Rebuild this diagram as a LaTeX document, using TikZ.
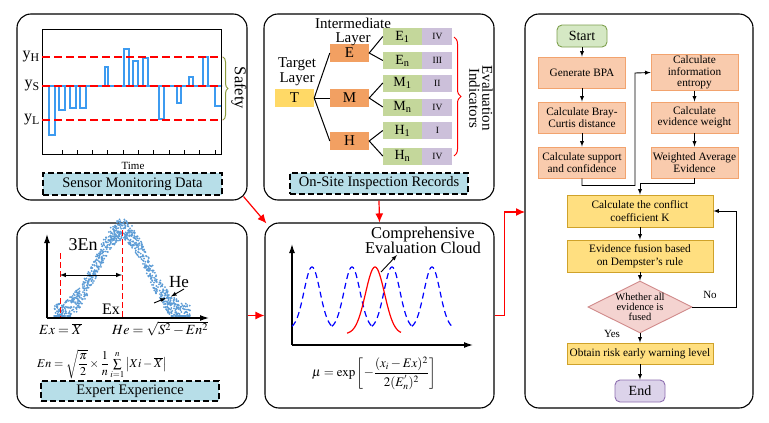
\documentclass[tikz,border=0pt]{standalone}
\usepackage{amsmath}
\usepackage{mathptmx}
\usepackage[no-math]{fontspec}
\setmainfont{Liberation Serif}
\usepackage{tikz}
\usetikzlibrary{arrows,arrows.meta,calc,positioning,shapes.geometric,decorations.pathreplacing}
\definecolor{capblue}{HTML}{B7DEE8}
\definecolor{tyellow}{HTML}{FFD966}
\definecolor{torange}{HTML}{F2A062}
\definecolor{tgreen}{HTML}{C4D79B}
\definecolor{tpurple}{HTML}{CCC0DA}
\definecolor{sigblue}{HTML}{3D9BF0}
\definecolor{dotblue}{HTML}{5B9BD5}
\definecolor{safegreen}{HTML}{8A9A3A}
\definecolor{procfill}{HTML}{F9CBAD}
\definecolor{procdraw}{HTML}{F2A36E}
\definecolor{keyfill}{HTML}{FFDF80}
\definecolor{keydraw}{HTML}{CFA22A}
\definecolor{startfill}{HTML}{D5E8C4}
\definecolor{startdraw}{HTML}{7EA04E}
\definecolor{endfill}{HTML}{DCD3EA}
\definecolor{enddraw}{HTML}{8E6FB0}
\definecolor{diafill}{HTML}{F4D3D0}
\definecolor{diadraw}{HTML}{D08A8A}
\tikzset{
        panel/.style = {draw, rectangle, rounded corners=14pt,
            line width=1.1pt, inner sep=0pt},
        caption/.style = {draw, rectangle, fill=capblue, line width=1.1pt,
            dash pattern=on 6pt off 3pt, inner sep=0pt,
            font=\fontsize{14.5}{16}\selectfont},
        layer/.style = {rectangle, inner sep=0pt, minimum width=39pt,
            minimum height=18pt, font=\fontsize{15}{16}\selectfont},
        leaf/.style = {rectangle, fill=tgreen, inner sep=0pt,
            minimum width=39pt, minimum height=17pt,
            font=\fontsize{14}{15}\selectfont},
        grade/.style = {rectangle, fill=tpurple, inner sep=0pt,
            minimum width=30pt, minimum height=17pt,
            font=\fontsize{9.5}{10}\selectfont},
        proc/.style = {draw=procdraw, fill=procfill, rectangle, line width=0.9pt,
            minimum width=87pt, minimum height=31pt, inner sep=1pt,
            align=center, font=\fontsize{11.3}{11.5}\selectfont},
        key/.style = {draw=keydraw, fill=keyfill, rectangle, line width=0.9pt,
            minimum width=146pt, minimum height=32pt, inner sep=1pt,
            align=center, font=\fontsize{11.3}{12.5}\selectfont},
        term/.style = {rectangle, rounded corners=5pt, line width=0.9pt,
            minimum width=50pt, minimum height=22pt, inner sep=0pt,
            font=\fontsize{14}{15}\selectfont},
        flow/.style = {draw, line width=0.9pt, -latex},
        redarrow/.style = {draw=red, line width=1.2pt, -{Latex[length=9pt,width=8pt]}},
        axis/.style = {draw, line width=1.3pt, -{Latex[length=9pt,width=6pt]}},
        signal/.style = {draw=sigblue, line width=1.2pt},
        level/.style = {draw=red, line width=1.1pt, dash pattern=on 8pt off 4pt},
    }

\begin{document}
\begin{tikzpicture}[x=1pt,y=-1pt]
\useasboundingbox (0,0) rectangle (769,423);

\node[panel, minimum width=230, minimum height=186] (p1) at (132,107) {};
\node[panel, minimum width=230, minimum height=186] (p2) at (379,107) {};
\node[panel, minimum width=230, minimum height=185] (p3) at (132,315.5) {};
\node[panel, minimum width=229, minimum height=185] (p4) at (379.5,315.5) {};
\node[panel, minimum width=228, minimum height=394] (p5) at (639,211) {};

% sensor monitoring
\node[draw, line width=1pt, minimum width=179, minimum height=125, inner sep=0pt] (plot) at (131.5,91.5) {};
\foreach \i in {0,...,10}
    \draw[line width=1pt] (62+\i*15.3,154) -- ++(0,-4);
\draw[signal] (42,86) -- (221,86);
\foreach \a/\b/\h in {49/55/135, 59/65/110, 70/76/108, 80/86/108, 105/108/67,
        124/129/49, 133/138/61, 143/148/58, 159/164/119, 177/181/103,
        189/193/77, 203/208/57}
    \draw[signal] (\a,86) -- (\a,\h) -- (\b,\h) -- (\b,86);
\draw[signal] (215,86) -- (215,106) -- (221,106);
\draw[level] (42,57) -- (222,57);
\draw[level] (42,86) -- (222,86);
\draw[level] (42,120) -- (222,120);
\node[anchor=east, font=\fontsize{16}{17}\selectfont, inner sep=1pt] (yh) at (41,57) {y\textsubscript{H}};
\node[anchor=east, font=\fontsize{16}{17}\selectfont, inner sep=1pt] (ys) at (41,86) {y\textsubscript{S}};
\node[anchor=east, font=\fontsize{16}{17}\selectfont, inner sep=1pt] (yl) at (41,120) {y\textsubscript{L}};
\draw[safegreen, line width=1pt, decorate, decoration={brace, amplitude=5pt}]
    (223,57) -- (223,120);
\node[rotate=-90, font=\fontsize{16.5}{17}\selectfont] (safety) at (239,88) {Safety};
\node[font=\fontsize{11}{12}\selectfont] (time) at (133,166) {Time};
\node[caption, minimum width=179, minimum height=22] (c1) at (132.5,184) {Sensor Monitoring Data};

% on-site inspection
\node[layer, fill=tyellow] (T) at (294.5,98) {T};
\node[layer, fill=torange] (E) at (349.5,53) {E};
\node[layer, fill=torange] (M) at (349.5,98) {M};
\node[layer, fill=torange] (H) at (349.5,141) {H};
\node[align=center, font=\fontsize{15}{14}\selectfont] (inter) at (353,32) {Intermediate\\Layer};
\node[align=center, font=\fontsize{15}{15}\selectfont] (target) at (297,72) {Target\\Layer};
\node[leaf] (e1) at (402.5,36.5) {E\textsubscript{1}};
\node[leaf] (en) at (402.5,60.5) {E\textsubscript{n}};
\node[leaf] (m1) at (402.5,83) {M\textsubscript{1}};
\node[leaf] (mn) at (402.5,107) {M\textsubscript{n}};
\node[leaf] (h1) at (402.5,130.5) {H\textsubscript{1}};
\node[leaf] (hn) at (402.5,156) {H\textsubscript{n}};
\node[grade, right=0pt of e1] (ge1) {IV};
\node[grade, right=0pt of en] (gen) {III};
\node[grade, right=0pt of m1] (gm1) {II};
\node[grade, right=0pt of mn] (gmn) {IV};
\node[grade, right=0pt of h1] (gh1) {I};
\node[grade, right=0pt of hn] (ghn) {IV};
\draw[line width=1pt] (T.east) -- (E.west);
\draw[line width=1pt] (T.east) -- (M.west);
\draw[line width=1pt] (T.east) -- (H.west);
\draw[line width=1pt] (e1.west) -- (E.east) -- (en.west);
\draw[line width=1pt] (m1.west) -- (M.east) -- (mn.west);
\draw[line width=1pt] (h1.west) -- (H.east) -- (hn.west);
\draw[red, line width=1pt, decorate, decoration={brace, amplitude=7pt}]
    (454,37) -- (454,156);
\node[rotate=-90, align=center, font=\fontsize{15}{13}\selectfont] (indic) at (481,98) {Evaluation\\Indicators};
\node[caption, minimum width=178, minimum height=21] (c2) at (379,183.5) {On-Site Inspection Records};

% expert experience
\pgfmathsetseed{42}
\foreach \i in {1,...,950}{
    \pgfmathsetmacro{\px}{122+68*rand}
    \pgfmathsetmacro{\py}{min(316,318-88*exp(-((\px-122)/25)^2/2)+11*rand)}
    \fill[dotblue] (\px,\py) circle (1);
}
\draw[red, line width=1pt, dash pattern=on 6pt off 3pt] (60,253) -- (60,318);
\draw[red, line width=1pt, dash pattern=on 6pt off 3pt] (122,230) -- (122,318);
\coordinate (o3) at (47,318);
\draw[axis] (o3) -- (47,234);
\draw[axis] (o3) -- (209,318);
\draw[latex-latex, line width=1pt] (60,275) -- (122,275);
\node[font=\fontsize{18}{18}\selectfont] (en3) at (83,245) {3En};
\node[font=\fontsize{17}{18}\selectfont] (he) at (179,282) {He};
\node[font=\fontsize{16}{17}\selectfont] (ex) at (111,309) {Ex};
\draw[-latex, line width=0.9pt] (184,289) -- (171,296.5);
\draw[-latex, line width=0.9pt] (154,303) -- (166,298);
\node[anchor=west, inner sep=0pt, font=\fontsize{14}{15}\selectfont] (f1) at (39,329) {$Ex=\overline{X}$};
\node[anchor=west, inner sep=0pt, font=\fontsize{14}{15}\selectfont] (f2) at (112,329) {$He=\sqrt{S^{2}-En^{2}}$};
\node[anchor=west, inner sep=0pt, font=\fontsize{12}{13}\selectfont] (f3) at (37,364)
    {$En=\sqrt{\dfrac{\pi}{2}}\times\dfrac{1}{n}\sum\limits_{i=1}^{n}\left|Xi-\overline{X}\right|$};
\node[caption, minimum width=178, minimum height=20] (c3) at (130,391) {Expert Experience};

% comprehensive evaluation cloud
\coordinate (o4) at (292,345);
\draw[axis] (o4) -- (292,244);
\draw[axis] (o4) -- (473,345);
\foreach \c in {312,352,392,432}
    \draw[blue, line width=1.2pt, dash pattern=on 6pt off 4pt]
        plot[domain=\c-20:\c+20, samples=50] (\x,{329-62*exp(-((\x-\c)/8)^2/2)});
\draw[red, line width=1.2pt]
    plot[domain=347:401, samples=60] (\x,{334-67*exp(-((\x-375)/9.5)^2/2)});
\node[align=center, font=\fontsize{16.5}{15}\selectfont] (cloud) at (423,240) {Comprehensive\\Evaluation Cloud};
\draw[-latex, line width=0.9pt] (381,272) -- (397,255);
\node[font=\fontsize{13}{14}\selectfont] (mu) at (374,373)
    {$\mu=\exp\left[-\dfrac{(x_{i}-Ex)^{2}}{2(E_{n}^{'})^{2}}\right]$};

% flowchart
\node[term, draw=startdraw, fill=startfill] (start) at (582,36) {Start};
\node[proc] (bpa) at (582,72.5) {Generate BPA};
\node[proc] (bray) at (582,117.5) {Calculate Bray-\\Curtis distance};
\node[proc] (sup) at (582,162.5) {Calculate support\\and confidence};
\node[proc] (ent) at (694.5,72.5) {Calculate\\information\\entropy};
\node[proc] (wgt) at (694.5,117.5) {Calculate\\evidence weight};
\node[proc] (wav) at (694.5,162.5) {Weighted Average\\Evidence};
\node[key] (conf) at (640,211) {Calculate the conflict\\coefficient K};
\node[key] (fus) at (640,256) {Evidence fusion based\\on Dempster's rule};
\node[diamond, draw=diadraw, fill=diafill, line width=0.9pt, aspect=2, inner sep=0pt,
    align=center, font=\fontsize{10.5}{10}\selectfont] (dia) at (640,307) {Whether all\\evidence is\\fused};
\node[key, minimum height=21] (obt) at (640,353.5) {Obtain risk early warning level};
\node[term, draw=enddraw, fill=endfill] (end) at (640,391) {End};
\coordinate (j1) at (635,73);
\draw[flow] (start) -- (bpa);
\draw[flow] (bpa) -- (bray);
\draw[flow] (bray) -- (sup);
\draw[flow] (sup.south) -- ++(0,7) -| (j1) -- (ent.west);
\draw[flow] (ent) -- (wgt);
\draw[flow] (wgt) -- (wav);
\draw[flow] (wav.south) -- ++(0,5) -| (conf.north);
\draw[flow] (conf) -- (fus);
\draw[flow] (fus) -- (dia);
\draw[flow] (dia) -- (obt);
\draw[flow] (obt) -- (end);
\draw[flow] (dia.east) -- ++(44,0) |- (conf.east);
\node[font=\fontsize{11}{12}\selectfont] (yes) at (612,334) {Yes};
\node[font=\fontsize{11}{12}\selectfont] (no) at (710,295) {No};

% links between panels
\coordinate (p5in) at (525,212);
\draw[redarrow] ($(p1.south east)+(-4,-4)$) -- ($(p4.north west)+(2,1)$);
\draw[redarrow] (p2.south) -- (p4.north);
\draw[redarrow] (p3.east) -- (p4.west);
\draw[redarrow] (p4.east) -- ++(10,0) |- (p5in);
\end{tikzpicture}
\end{document}
